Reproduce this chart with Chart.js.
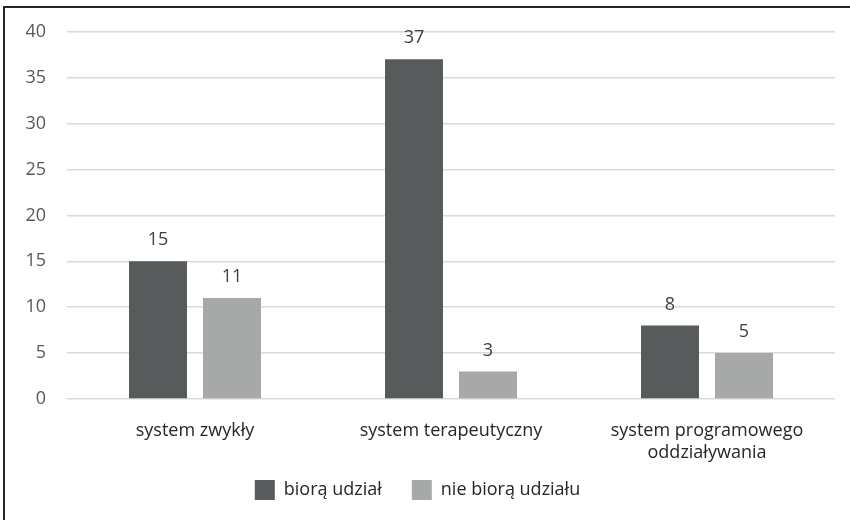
<!DOCTYPE html>
<html>
<head>
<meta charset="utf-8">
<script src="https://cdn.jsdelivr.net/npm/chart.js@4.4.1/dist/chart.umd.min.js"></script>
<style>
    body { margin: 0; background: #fff; }
    #wrap { position: relative; width: 850px; height: 520px; overflow: hidden; }
    #frame { position: absolute; left: 3px; top: 6px; width: 900px; height: 600px;
             border-left: 2px solid #262626; border-top: 2px solid #262626; pointer-events: none; }
</style>
</head>
<body>
<div id="wrap">
    <canvas id="system_chart" width="850" height="520"></canvas>
    <div id="frame"></div>
</div>
<script>
const categories = [['system zwykły'], ['system terapeutyczny'], ['system programowego', 'oddziaływania']];
const seriesNames = ['biorą udział', 'nie biorą udziału'];
const takingPart = [15, 37, 8];
const notTakingPart = [11, 3, 5];
const yTicks = [0, 5, 10, 15, 20, 25, 30, 35, 40];

const barColors = ['#575b5b', '#a7a9a9'];
const fontFamily = '"Open Sans", "Noto Sans", sans-serif';

// draws the value above each bar
const valueLabels = {
    id: 'valueLabels',
    afterDatasetsDraw(chart) {
        const c = chart.ctx;
        c.save();
        c.font = '18px ' + fontFamily;
        c.fillStyle = '#404040';
        c.textAlign = 'center';
        c.textBaseline = 'middle';
        chart.data.datasets.forEach((ds, i) => {
            chart.getDatasetMeta(i).data.forEach((bar, j) => {
                c.fillText(ds.data[j], bar.x, bar.y - 21);
            });
        });
        c.restore();
    }
};

const ctx = document.getElementById('system_chart');

new Chart(ctx, {
    type: 'bar',
    data: {
        labels: categories,
        datasets: [{
            label: seriesNames[0],
            data: takingPart,
            backgroundColor: barColors[0],
            categoryPercentage: 0.578,
            barPercentage: 0.784,
        }, {
            label: seriesNames[1],
            data: notTakingPart,
            backgroundColor: barColors[1],
            categoryPercentage: 0.578,
            barPercentage: 0.784,
        }]
    },
    options: {
        responsive: false,
        animation: false,
        layout: {
            padding: { top: 31, right: 15, left: 0, bottom: 10 }
        },
        plugins: {
            legend: {
                display: true,
                position: 'bottom',
                maxHeight: 60,
                labels: {
                    boxWidth: 20,
                    boxHeight: 20,
                    padding: 30,
                    color: '#262626',
                    font: { family: fontFamily, size: 18 }
                }
            },
            tooltip: { enabled: false }
        },
        scales: {
            x: {
                grid: { display: false },
                border: { display: false },
                ticks: {
                    color: '#262626',
                    padding: 13,
                    font: { family: fontFamily, size: 18, lineHeight: 1.22 }
                },
                afterFit(scale) {
                    scale.height = 51;
                    // let the two-line label run past the axis box
                    scale._computeLabelArea = () => undefined;
                }
            },
            y: {
                min: 0,
                max: 40,
                afterBuildTicks(scale) { scale.ticks = yTicks.map(v => ({ value: v })); },
                grid: { color: '#d9d9d9', lineWidth: 1.5, drawTicks: false },
                border: { display: false },
                ticks: {
                    color: '#595959',
                    padding: 21,
                    font: { family: fontFamily, size: 18 }
                },
                afterFit(scale) { scale.width = 67; }
            }
        }
    },
    plugins: [valueLabels]
});
</script>
</body>
</html>
